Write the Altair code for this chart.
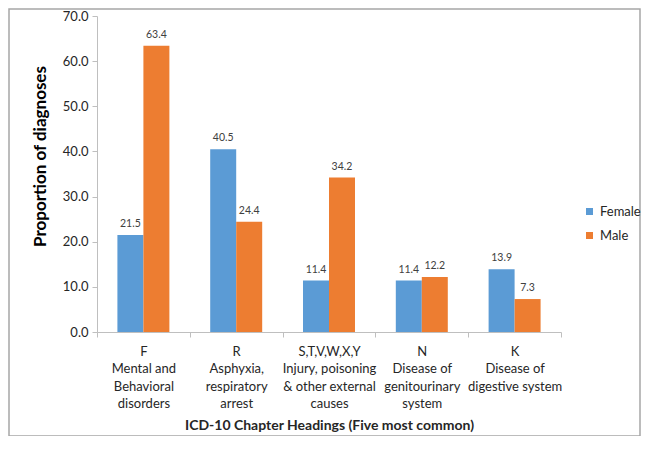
import altair as alt
import pandas as pd

categories = [
    "F|Mental and|Behavioral|disorders",
    "R|Asphyxia,|respiratory|arrest",
    "S,T,V,W,X,Y|Injury, poisoning|& other external|causes",
    "N|Disease of|genitourinary|system",
    "K|Disease of|digestive system",
]
series = ["Female", "Male"]
female = [21.5, 40.5, 11.4, 11.4, 13.9]
male = [63.4, 24.4, 34.2, 12.2, 7.3]
y_ticks = [0, 10, 20, 30, 40, 50, 60, 70]
colors = ["#5B9BD5", "#ED7D31"]

rows = []
for c, f, m in zip(categories, female, male):
    rows.append({"cat": c, "sex": "Female", "value": f})
    rows.append({"cat": c, "sex": "Male", "value": m})
df = pd.DataFrame(rows)

W, H = 464, 316
FONT = "Lato"

x_enc = alt.X(
    "cat:N",
    sort=categories,
    scale=alt.Scale(paddingInner=0, paddingOuter=0),
    axis=alt.Axis(
        title="ICD-10 Chapter Headings (Five most common)",
        labelExpr="split(datum.label, '|')",
        labelAngle=0,
        labelOverlap=False,
        labelBound=False,
        labelLimit=0,
        tickBand="extent",
        tickSize=5,
        tickColor="#BFBFBF",
        domainColor="#BFBFBF",
        labelPadding=8,
        labelFontSize=13,
        labelLineHeight=17.5,
        labelColor="#262626",
        titleFontSize=14,
        titleFontWeight="bold",
        titleColor="#262626",
        titlePadding=8,
    ),
)
xoff_enc = alt.XOffset(
    "sex:N", sort=series, scale=alt.Scale(paddingInner=0, paddingOuter=0.785)
)
y_enc = alt.Y(
    "value:Q",
    scale=alt.Scale(domain=[0, 70], nice=False),
    axis=alt.Axis(
        values=y_ticks,
        format=".1f",
        grid=False,
        title="Proportion of diagnoses",
        tickSize=5,
        tickColor="#BFBFBF",
        domainColor="#BFBFBF",
        labelPadding=4,
        labelFontSize=13,
        labelColor="#262626",
        titleFontSize=17,
        titleFontWeight="bold",
        titleColor="#000000",
        titleX=-57,
        titleY=140,
        titleBaseline="middle",
    ),
)

bars = alt.Chart(df).mark_bar().encode(
    x=x_enc,
    xOffset=xoff_enc,
    y=y_enc,
    color=alt.Color(
        "sex:N",
        scale=alt.Scale(domain=series, range=colors),
        legend=alt.Legend(
            title=None,
            orient="none",
            legendX=486,
            legendY=189,
            symbolType="square",
            symbolSize=49,
            labelFontSize=13,
            labelColor="#262626",
            rowPadding=10,
            padding=0,
        ),
    ),
)

labels = alt.Chart(df).mark_text(
    dy=-11, fontSize=10.5, color="#404040", baseline="middle"
).encode(
    x=x_enc,
    xOffset=xoff_enc,
    y=y_enc,
    text=alt.Text("value:Q", format=".1f"),
)

border = alt.Chart(alt.Data(values=[{}])).mark_rect(
    filled=False, stroke="#A6A6A6", strokeWidth=1.5
).encode(
    x=alt.value(-88), x2=alt.value(543), y=alt.value(-7), y2=alt.value(420)
)

chart = alt.layer(bars, labels, border).properties(
    width=W,
    height=H,
    autosize=alt.AutoSizeParams(type="none"),
    padding={"left": 89, "top": 8, "right": 80, "bottom": 104},
).configure(font=FONT).configure_view(stroke=None)

chart.save("out.html", embed_options={"renderer": "svg", "actions": False})
